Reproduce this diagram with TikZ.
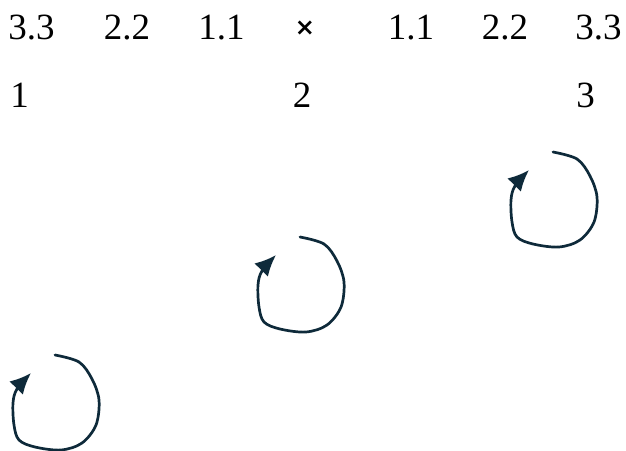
\documentclass[tikz,border=0pt]{standalone}
\usepackage{fontspec}
\setmainfont{Liberation Serif}
\newfontfamily\crossfont{DejaVu Sans}
\usepackage{tikz}
\usetikzlibrary{arrows.meta}
\definecolor{inkblue}{RGB}{14,42,58}

\begin{document}
\begin{tikzpicture}[
  x=1pt,y=-1pt,
  font=\fontsize{37}{40}\selectfont,
  lbl/.style={anchor=base,inner sep=0pt},
  looparr/.style={-{Latex[length=21pt,width=19pt]},line width=2.7pt,color=inkblue,line cap=round,line join=round},
  spin/.pic={
    \draw[looparr] plot[smooth,tension=0.55] coordinates {
      (0,0) (24,7) (37,24) (44,45) (41,70) (27,88) (6,95) (-20,92)
      (-36,85) (-41,70) (-42,48) (-38,34) (-24,18)};
  },
]
\useasboundingbox (0,0) rectangle (626,450);

% upper row
\node[lbl] (lthree) at (31.5,39) {3.3};
\node[lbl] (ltwo) at (127,39) {2.2};
\node[lbl] (lone) at (221.5,39) {1.1};
\node[inner sep=0pt,font=\crossfont\bfseries\fontsize{24}{24}\selectfont] (cross) at (305,28) {×};
\node[lbl] (rone) at (411,39) {1.1};
\node[lbl] (rtwo) at (505,39) {2.2};
\node[lbl] (rthree) at (598.5,39) {3.3};

% lower row
\node[lbl] (first) at (19.5,107) {1};
\node[lbl] (second) at (302,107) {2};
\node[lbl] (third) at (585.5,107) {3};

% rotation marks
\pic at (55,355) {spin};
\pic at (300,237) {spin};
\pic at (553,152) {spin};
\end{tikzpicture}
\end{document}
